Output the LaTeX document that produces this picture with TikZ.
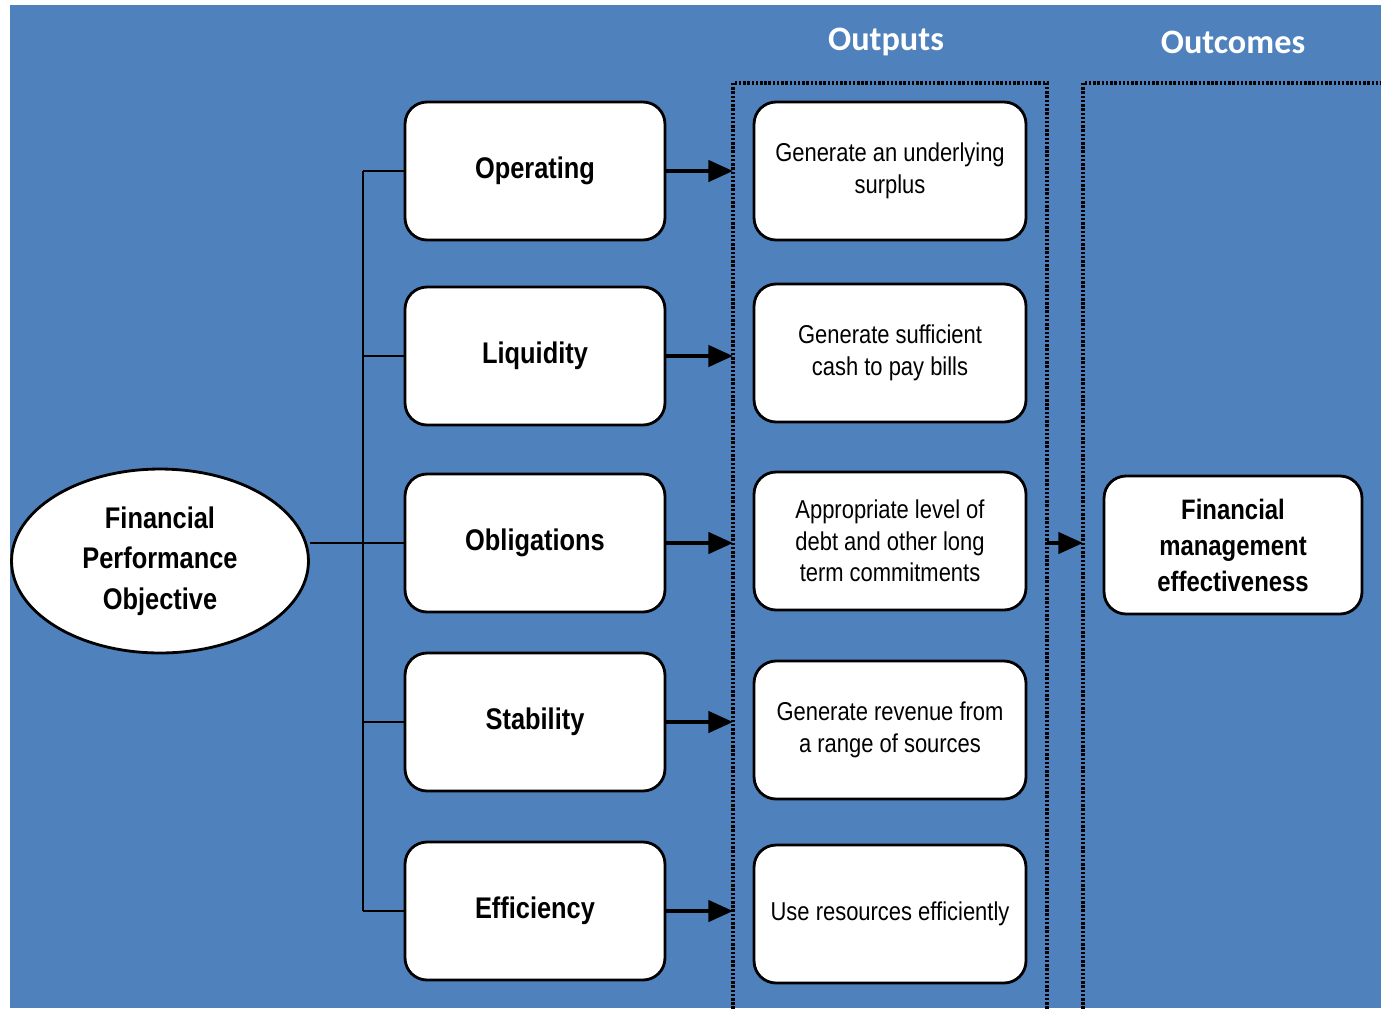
\documentclass[tikz,border=0pt]{standalone}
\usepackage{fontspec}
\setmainfont{Liberation Sans}[FakeStretch=0.85]
\newfontfamily\headfont{Carlito}
\usepackage{tikz}
\usetikzlibrary{arrows.meta,shapes.geometric,calc}
\definecolor{panel}{HTML}{4F81BD}

\begin{document}
\begin{tikzpicture}[x=0.02cm,y=-0.02cm,
  objective/.style={ellipse,draw,fill=white,line width=1.6pt,minimum width=5.94cm,minimum height=3.68cm,align=center,font=\fontsize{17}{23}\selectfont\bfseries},
  aspect/.style={rectangle,rounded corners=0.44cm,draw,fill=white,line width=1.6pt,minimum width=5.2cm,minimum height=2.76cm,align=center,font=\fontsize{17}{21}\selectfont\bfseries},
  result/.style={aspect,minimum width=5.44cm,font=\fontsize{14.7}{18}\selectfont},
  outcome/.style={aspect,minimum width=5.16cm,font=\fontsize{16}{20.5}\selectfont\bfseries},
  heading/.style={text=white,font=\headfont\fontsize{19.5}{23}\selectfont\bfseries},
  frame/.style={line width=2.2pt,dash pattern=on 1.4pt off 1pt},
  link/.style={line width=1.1pt},
  push/.style={line width=2.3pt,-{Triangle[length=14pt,width=12pt]}}]
\useasboundingbox (0,0) rectangle (1381,1008);
\clip (0,0) rectangle (1381,1008);
\fill[panel] (10,5) rectangle (1381,1008);

\node[heading] (hout) at (886,42) {Outputs};
\node[heading] (hoc) at (1233,42) {Outcomes};

\coordinate (trunk) at (363,0);
\coordinate (outL) at (733,83);
\coordinate (outR) at (1047,83);
\coordinate (outcL) at (1083,83);
\draw[frame] (733,1030) |- (outR) -- (1047,1030);
\draw[frame] (1083,1030) |- (1400,83);

\node[objective] (obj) at (160,561) {Financial\\Performance\\Objective};

\node[aspect] (op) at (535,171) {Operating};
\node[aspect] (liq) at (535,356) {Liquidity};
\node[aspect] (obl) at (535,543) {Obligations};
\node[aspect] (stab) at (535,722) {Stability};
\node[aspect] (eff) at (535,911) {Efficiency};

\node[result] (res1) at (890,171) {Generate an underlying\\surplus};
\node[result] (res2) at (890,353) {Generate sufficient\\cash to pay bills};
\node[result] (res3) at (890,541) {Appropriate level of\\debt and other long\\term commitments};
\node[result] (res4) at (890,730) {Generate revenue from\\a range of sources};
\node[result] (res5) at (890,914) {Use resources efficiently};

\node[outcome] (fme) at (1233,545) {Financial\\management\\effectiveness};

\draw[link] (obj.east |- obl.west) -- (trunk |- obl.west);
\draw[link] (op.west -| trunk) -- (eff.west -| trunk);
\foreach \n in {op,liq,obl,stab,eff} {
  \draw[link] (\n.west -| trunk) -- (\n.west);
  \draw[push] (\n.east) -- (\n.east -| outL);
}
\draw[push] (outR |- obl.east) -- (outcL |- obl.east);
\end{tikzpicture}
\end{document}
